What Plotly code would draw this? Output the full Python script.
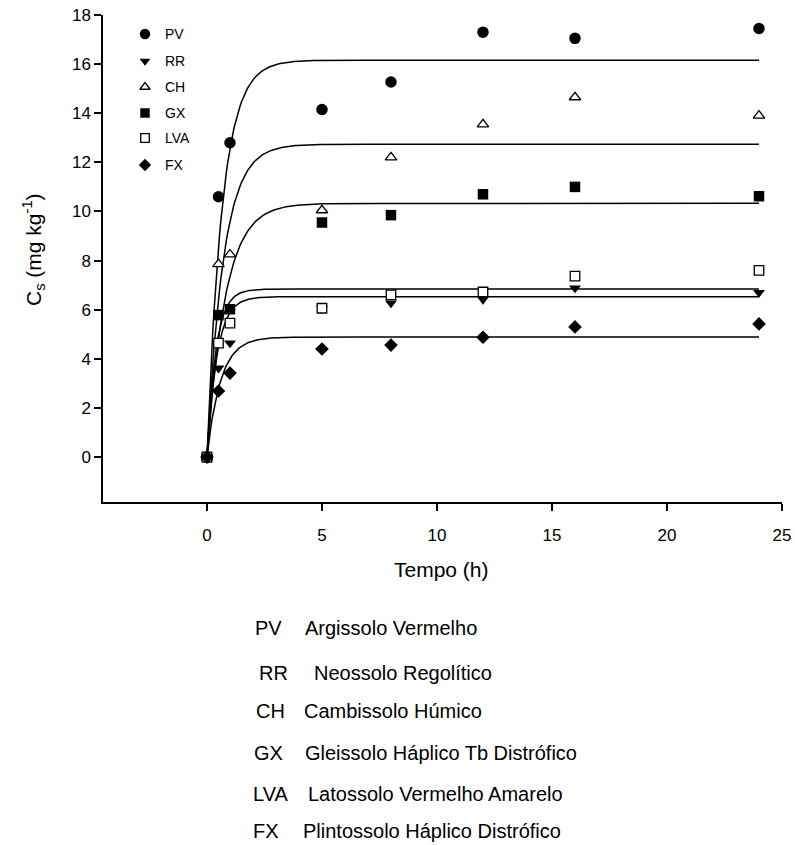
import numpy as np
import plotly.graph_objects as go

# ---------------- data ----------------
time_h = [0, 0.5, 1, 5, 8, 12, 16, 24]
pv = [0, 10.6, 12.8, 14.15, 15.27, 17.3, 17.05, 17.45]
rr = [0, 3.62, 4.64, 6.05, 6.27, 6.42, 6.88, 6.7]
ch = [0, 7.86, 8.25, 10.05, 12.2, 13.55, 14.65, 13.9]
gx = [0, 5.78, 6.02, 9.55, 9.85, 10.7, 11.0, 10.62]
lva = [0, 4.64, 5.45, 6.06, 6.6, 6.72, 7.37, 7.6]
fx = [0, 2.69, 3.42, 4.4, 4.56, 4.88, 5.3, 5.42]

codes = ["PV", "RR", "CH", "GX", "LVA", "FX"]
names = ["Argissolo Vermelho", "Neossolo Regolítico", "Cambissolo Húmico",
         "Gleissolo Háplico Tb Distrófico", "Latossolo Vermelho Amarelo",
         "Plintossolo Háplico Distrófico"]
# fitted model parameters (C = Cmax * (1 - exp(-k t)))
fit_cmax = [16.16, 6.53, 12.74, 10.33, 6.84, 4.89]
fit_k = [1.5, 2.3, 1.4, 1.25, 2.6, 1.7]

x_ticks = [0, 5, 10, 15, 20, 25]
y_ticks = [0, 2, 4, 6, 8, 10, 12, 14, 16, 18]

series = [pv, rr, ch, gx, lva, fx]

# ---------------- styles ----------------
FONT = "Liberation Sans, Arial, sans-serif"
styles = [
    dict(symbol="circle", size=11.5, color="black", line=dict(width=0)),
    dict(symbol="triangle-down", size=10.5, color="black", line=dict(width=0)),
    dict(symbol="triangle-up", size=10, color="white", line=dict(width=1.3, color="black")),
    dict(symbol="square", size=10.5, color="black", line=dict(width=0)),
    dict(symbol="square", size=9.5, color="white", line=dict(width=1.3, color="black")),
    dict(symbol="diamond", size=10.5, color="black", line=dict(width=0)),
]

W, H = 795, 845
L, R, T, B = 103, 782, 15, 502


def px(xp):
    return (xp - L) / (R - L)


def py(yp):
    return (B - yp) / (B - T)


fig = go.Figure()

# fitted curves
t_fit = np.linspace(0, 24, 400)
for cmax, k in zip(fit_cmax, fit_k):
    fig.add_trace(go.Scatter(x=t_fit, y=cmax * (1 - np.exp(-k * t_fit)), mode="lines",
                             line=dict(color="black", width=1.5), showlegend=False,
                             hoverinfo="skip"))

# observed points
for vals, st, code in zip(series, styles, codes):
    fig.add_trace(go.Scatter(x=time_h, y=vals, mode="markers", marker=st,
                             name=code, showlegend=False, cliponaxis=False))

# ---------------- legends (pixel overlay axes) ----------------
top_rows = [34, 61, 87, 113, 138, 165]
top_marker_x = 145
top_label_x = 163
bot_rows = [628, 673, 711, 753, 794, 831]
bot_marker_x = 216
bot_code_x = [253, 257, 254, 252, 251, 251]
bot_name_x = [303, 312, 302, 303, 306, 301]

for i, st in enumerate(styles):
    st_small = dict(st)
    st_small["size"] = st["size"] * 0.9
    fig.add_trace(go.Scatter(x=[top_marker_x, bot_marker_x], y=[top_rows[i], bot_rows[i]],
                             xaxis="x2", yaxis="y2", mode="markers", marker=st_small,
                             showlegend=False, cliponaxis=False, hoverinfo="skip"))

annotations = []
for i, code in enumerate(codes):
    annotations.append(dict(x=px(top_label_x), y=py(top_rows[i]), xref="paper", yref="paper",
                            text=code, showarrow=False, xanchor="left", yanchor="middle",
                            font=dict(family=FONT, size=14, color="black")))
    annotations.append(dict(x=px(bot_code_x[i]), y=py(bot_rows[i]), xref="paper", yref="paper",
                            text=code, showarrow=False, xanchor="left", yanchor="middle",
                            font=dict(family=FONT, size=20, color="black")))
    annotations.append(dict(x=px(bot_name_x[i]), y=py(bot_rows[i]), xref="paper", yref="paper",
                            text=names[i], showarrow=False, xanchor="left", yanchor="middle",
                            font=dict(family=FONT, size=20, color="black")))

# axis titles
annotations.append(dict(x=px(441), y=py(569), xref="paper", yref="paper", text="Tempo (h)",
                        showarrow=False, xanchor="center", yanchor="middle",
                        font=dict(family=FONT, size=21, color="black")))
annotations.append(dict(x=px(33), y=py(250), xref="paper", yref="paper",
                        text="C<sub>s</sub> (mg kg<sup>-1</sup>)", textangle=-90,
                        showarrow=False, xanchor="center", yanchor="middle",
                        font=dict(family=FONT, size=21, color="black")))

axis_common = dict(showline=True, linecolor="black", linewidth=1.5, ticks="outside",
                   ticklen=7, tickwidth=1.5, tickcolor="black", showgrid=False,
                   zeroline=False, mirror=False,
                   tickfont=dict(family=FONT, size=17, color="black"))

fig.update_layout(
    width=W, height=H,
    margin=dict(l=L, r=W - R, t=T, b=H - B, autoexpand=False),
    paper_bgcolor="white", plot_bgcolor="white",
    showlegend=False,
    xaxis=dict(range=[-4.52, 25], tickvals=x_ticks, ticklabelstandoff=10, **axis_common),
    yaxis=dict(range=[-1.83, 18], tickvals=y_ticks, **axis_common),
    xaxis2=dict(range=[L, R], overlaying="x", visible=False, fixedrange=True),
    yaxis2=dict(range=[B, T], overlaying="y", visible=False, fixedrange=True),
    annotations=annotations,
)

fig.write_html("out.html")
